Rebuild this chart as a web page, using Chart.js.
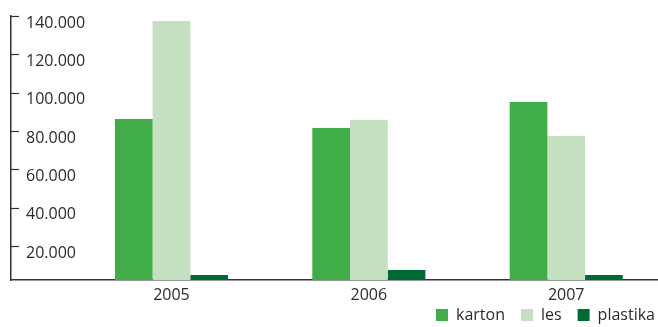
<!DOCTYPE html>
<html>
<head>
<meta charset="utf-8">
<script src="https://cdn.jsdelivr.net/npm/chart.js@4/dist/chart.umd.min.js"></script>
<style>
  html, body { margin: 0; padding: 0; background: #ffffff; overflow: hidden; }
  #wrap { width: 658px; height: 327px; position: relative; }
</style>
</head>
<body>
<div id="wrap"><canvas id="chart"></canvas></div>
<script>
// Years on the horizontal axis
const years = [2005, 2006, 2007];

// Collected amounts per material
const karton   = [86200, 81500, 95100];
const les      = [137400, 85700, 77400];
const plastika = [4900, 7500, 4900];

// Value axis tick marks
const yTicks = [20000, 40000, 60000, 80000, 100000, 120000, 140000];

const seriesNames  = ['karton', 'les', 'plastika'];
const seriesColors = ['#41ad49', '#c4e0c0', '#006a35'];
const textColor = '#2b2b2b';
const axisColor = '#333333';
const fontFamily = '"Open Sans", "DejaVu Sans", sans-serif';

const toPoints = arr => arr.map((v, i) => ({ x: years[i], y: v }));

// Short inward tick marks on the value axis
const inwardTicks = {
  id: 'inwardTicks',
  afterDraw(chart) {
    const y = chart.scales.y;
    const left = chart.chartArea.left;
    const ctx = chart.ctx;
    ctx.save();
    ctx.strokeStyle = axisColor;
    ctx.lineWidth = 1.2;
    y.ticks.forEach(t => {
      const py = Math.round(y.getPixelForValue(t.value)) + 0.5;
      ctx.beginPath();
      ctx.moveTo(left, py);
      ctx.lineTo(left + 8, py);
      ctx.stroke();
    });
    ctx.restore();
  }
};

// Legend row sits flush with the right edge, just under the year labels
const legendShift = {
  id: 'legendShift',
  afterLayout(chart) {
    const lg = chart.legend;
    if (!lg) return;
    lg.left += 13;
    lg.right += 13;
    lg.top -= 11;
  }
};

new Chart(document.getElementById('chart'), {
  type: 'bar',
  data: {
    datasets: seriesNames.map((name, k) => ({
      label: name,
      data: toPoints([karton, les, plastika][k]),
      backgroundColor: seriesColors[k],
      borderWidth: 0,
      barPercentage: 1,
      categoryPercentage: 0.573
    }))
  },
  options: {
    responsive: true,
    maintainAspectRatio: false,
    animation: false,
    layout: { padding: { left: 11, right: 0, top: 16, bottom: 0 } },
    plugins: {
      tooltip: { enabled: false },
      legend: {
        position: 'bottom',
        align: 'end',
        maxHeight: 25,
        labels: {
          boxWidth: 12,
          boxHeight: 12,
          padding: 16,
          color: textColor,
          font: { family: fontFamily, size: 16 }
        }
      }
    },
    scales: {
      x: {
        type: 'linear',
        offset: false,
        min: 2004.187,
        max: 2007.465,
        grid: { display: false, drawTicks: false, offset: false },
        border: { display: true, color: axisColor, width: 1.5 },
        afterBuildTicks: s => { s.ticks = years.map(v => ({ value: v })); },
        afterFit: s => { s.height = 22; s.paddingLeft = 0; s.paddingRight = 0; },
        ticks: {
          padding: 6,
          color: textColor,
          font: { family: fontFamily, size: 16 },
          callback: v => String(v)
        }
      },
      y: {
        min: 2260,
        max: 140000,
        grid: { display: false, drawTicks: false },
        border: { display: true, color: axisColor, width: 1.5 },
        afterBuildTicks: s => { s.ticks = yTicks.map(v => ({ value: v })); },
        afterFit: s => { s.width = 0; s.paddingTop = 0; s.paddingBottom = 0; },
        ticks: {
          mirror: true,
          padding: 15,
          labelOffset: 7,
          color: textColor,
          font: { family: fontFamily, size: 16 },
          callback: v => v.toLocaleString('de-DE')
        }
      }
    }
  },
  plugins: [inwardTicks, legendShift]
});
</script>
</body>
</html>
